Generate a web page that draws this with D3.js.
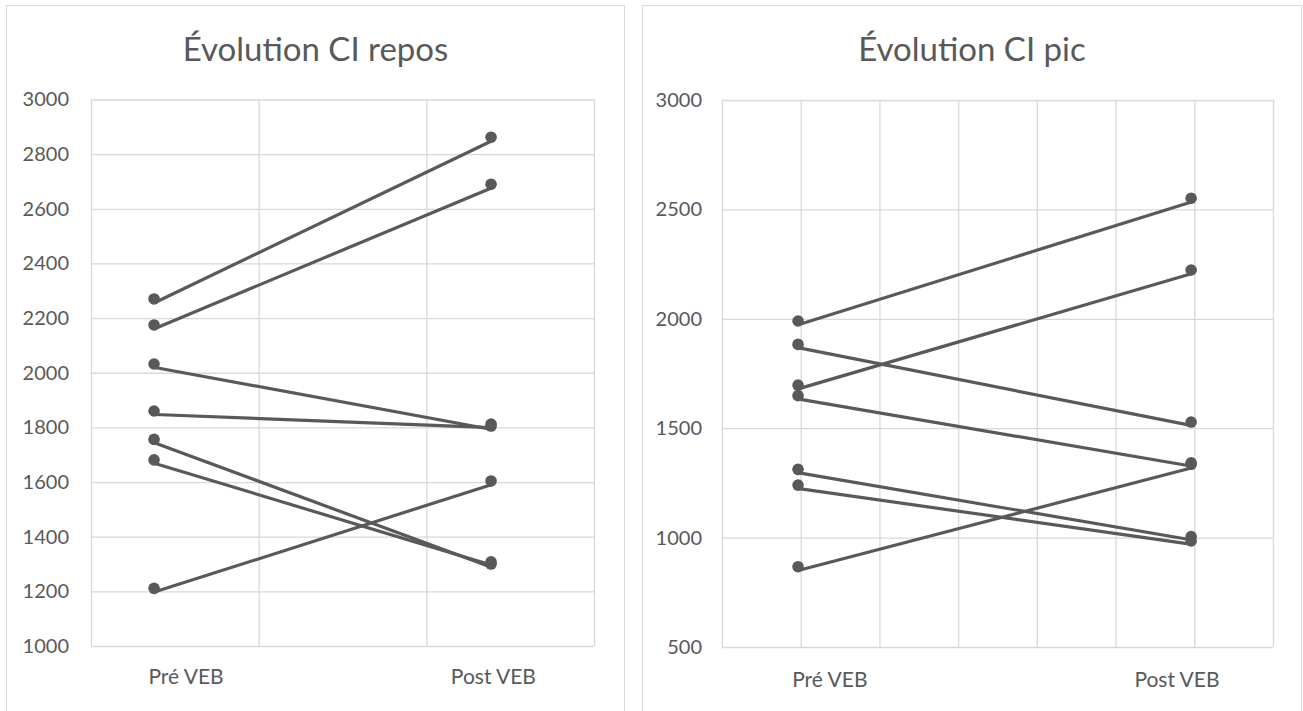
<!DOCTYPE html>
<html>
<head>
<meta charset="utf-8">
<script src="https://cdn.jsdelivr.net/npm/d3@7"></script>
<style>
  html, body { margin: 0; padding: 0; background: #fff; }
  svg { display: block; font-family: Lato, "Open Sans", sans-serif; }
</style>
</head>
<body>
<svg id="chart" width="1303" height="711"></svg>
<script>
// ---------- data ----------
const categories = ["Pré VEB", "Post VEB"];

// Left chart: CI au repos
const restTitle = "Évolution CI repos";
const restPre  = [2270, 2175, 2032, 1860, 1756, 1681, 1211];
const restPost = [2862, 2690, 1805, 1812, 1300, 1308, 1604];
const restTicks = [1000, 1200, 1400, 1600, 1800, 2000, 2200, 2400, 2600, 2800, 3000];
const restXGrid = [0, 1, 2, 3];
const restXPos = [0.376, 2.386];      // x position of the two measurement points
const restLabelPos = [0.567, 2.40];   // x position of category labels

// Right chart: CI au pic
const peakTitle = "Évolution CI pic";
const peakPre  = [1990, 1697, 1883, 1649, 867, 1312, 1240];
const peakPost = [2551, 2223, 1528, 1342, 1335, 1005, 985];
const peakTicks = [500, 1000, 1500, 2000, 2500, 3000];
const peakXGrid = [0, 1, 2, 3, 4, 5, 6, 7];
const peakXPos = [0.966, 5.96];
const peakLabelPos = [1.37, 5.78];

// ---------- style ----------
const LINE = "#595959", GRID = "#d9d9d9", TEXT = "#595959";

const svg = d3.select("#chart");

function drawChart(cfg) {
  const g = svg.append("g");
  // outer border
  g.append("rect")
    .attr("x", cfg.box[0]).attr("y", cfg.box[1])
    .attr("width", cfg.box[2] - cfg.box[0]).attr("height", cfg.box[3] - cfg.box[1])
    .attr("fill", "#fff").attr("stroke", GRID).attr("stroke-width", 1);

  // title
  g.append("text")
    .attr("x", (cfg.box[0] + cfg.box[2]) / 2).attr("y", cfg.titleY)
    .attr("text-anchor", "middle")
    .attr("font-size", 33).attr("fill", TEXT)
    .text(cfg.title);

  const x = d3.scaleLinear().domain(d3.extent(cfg.xGrid)).range([cfg.plot[0], cfg.plot[2]]);
  const y = d3.scaleLinear().domain(d3.extent(cfg.ticks)).range([cfg.plot[3], cfg.plot[1]]);
  const w = cfg.plot[2] - cfg.plot[0], h = cfg.plot[3] - cfg.plot[1];

  // horizontal gridlines + y labels
  const ya = g.append("g").attr("transform", `translate(${cfg.plot[0]},0)`)
    .call(d3.axisLeft(y).tickValues(cfg.ticks).tickSize(-w).tickPadding(cfg.tickPad).tickFormat(d3.format("d")));
  ya.select(".domain").remove();
  ya.selectAll("line").attr("stroke", GRID).attr("stroke-width", 1.3);
  ya.selectAll("text").attr("fill", TEXT).attr("font-size", 20).attr("font-family", "Lato, sans-serif");

  // vertical gridlines
  const xa = g.append("g").attr("transform", `translate(0,${cfg.plot[3]})`)
    .call(d3.axisBottom(x).tickValues(cfg.xGrid).tickSize(-h).tickFormat(""));
  xa.select(".domain").remove();
  xa.selectAll("line").attr("stroke", GRID).attr("stroke-width", 1.3);

  // category labels
  g.selectAll(".cat").data(categories).enter().append("text")
    .attr("x", (d, i) => x(cfg.labelPos[i]))
    .attr("y", cfg.labelY)
    .attr("text-anchor", "middle")
    .attr("font-size", 21).attr("fill", TEXT)
    .text(d => d);

  const pairs = cfg.pre.map((v, i) => [v, cfg.post[i]]);

  // lines
  g.append("g").attr("transform", "translate(1,3.5)")
    .selectAll("line").data(pairs).enter().append("line")
    .attr("x1", x(cfg.xPos[0])).attr("x2", x(cfg.xPos[1]))
    .attr("y1", d => y(d[0])).attr("y2", d => y(d[1]))
    .attr("stroke", LINE).attr("stroke-width", 3.2);

  // markers
  const pts = [];
  pairs.forEach(p => { pts.push([cfg.xPos[0], p[0]]); pts.push([cfg.xPos[1], p[1]]); });
  g.append("g").selectAll("circle").data(pts).enter().append("circle")
    .attr("cx", d => x(d[0])).attr("cy", d => y(d[1])).attr("r", 5.8)
    .attr("fill", LINE);
}

drawChart({
  box: [6.5, 5.5, 624.5, 730], plot: [91, 99.5, 594, 646], titleY: 61,
  title: restTitle, pre: restPre, post: restPost, ticks: restTicks,
  xGrid: restXGrid, xPos: restXPos, labelPos: restLabelPos, labelY: 684, tickPad: 22
});
drawChart({
  box: [642.5, 5.5, 1301.5, 730], plot: [722, 100, 1273, 647], titleY: 61,
  title: peakTitle, pre: peakPre, post: peakPost, ticks: peakTicks,
  xGrid: peakXGrid, xPos: peakXPos, labelPos: peakLabelPos, labelY: 687, tickPad: 20
});
</script>
</body>
</html>
